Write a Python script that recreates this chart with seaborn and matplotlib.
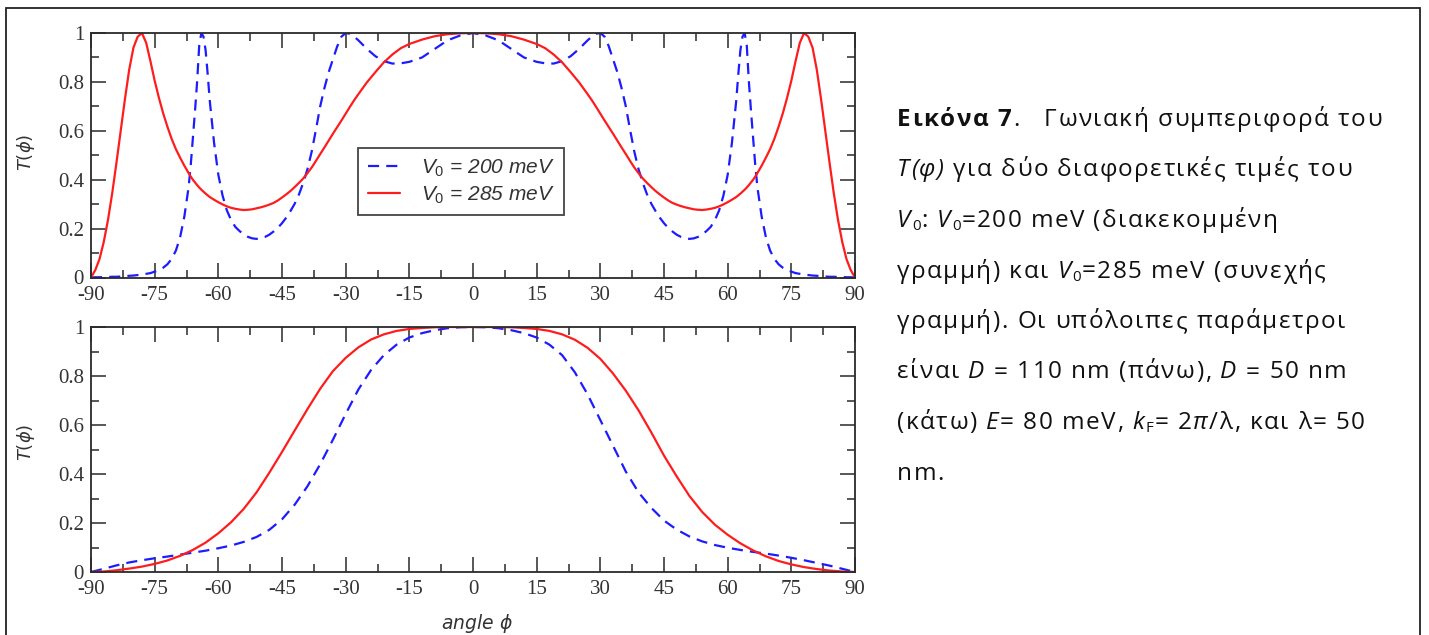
import numpy as np
import pandas as pd
import matplotlib
matplotlib.use("Agg")
import matplotlib.pyplot as plt
import seaborn as sns
from matplotlib.ticker import MultipleLocator, FuncFormatter
from matplotlib.font_manager import FontProperties, findfont
from matplotlib.ft2font import FT2Font
from matplotlib.patches import Rectangle

# ---------------- data ----------------
top_angle = [
    -90, -89, -88, -87, -86, -85, -84, -83, -82, -81,
    -80, -79, -78, -77, -76, -75, -74, -73, -72, -71,
    -70, -69, -68, -67, -66.5, -66, -65.5, -65, -64.5, -64,
    -63.5, -63, -62.5, -62, -61, -60, -59, -58, -57, -56,
    -55, -54, -53, -52, -51, -50, -49, -48, -47, -46,
    -45, -44, -43, -42, -41, -40, -39, -38, -37, -36,
    -35, -34, -33, -32, -31, -30, -29, -28, -27, -25,
    -23, -21, -19, -17, -15, -12, -9, -6, -3,
    0,
    3, 6, 9, 12, 15, 17, 19, 21, 23,
    25, 27, 28, 29, 30, 31, 32, 33, 34, 35,
    36, 37, 38, 39, 40, 41, 42, 43, 44, 45,
    46, 47, 48, 49, 50, 51, 52, 53, 54, 55,
    56, 57, 58, 59, 60, 61, 62, 62.5, 63, 63.5,
    64, 64.5, 65, 65.5, 66, 66.5, 67, 68, 69, 70,
    71, 72, 73, 74, 75, 76, 77, 78, 79, 80,
    81, 82, 83, 84, 85, 86, 87, 88, 89, 90,
]
top_v285 = [
    0.0, 0.03, 0.075, 0.145, 0.235, 0.345, 0.47, 0.60, 0.73, 0.85,
    0.94, 0.985, 1.0, 0.96, 0.885, 0.805, 0.735, 0.672, 0.617, 0.567,
    0.525, 0.49, 0.457, 0.427, 0.413, 0.40, 0.389, 0.378, 0.368, 0.359,
    0.351, 0.343, 0.336, 0.329, 0.318, 0.308, 0.299, 0.291, 0.285, 0.281,
    0.278, 0.276, 0.277, 0.279, 0.283, 0.287, 0.292, 0.298, 0.305, 0.315,
    0.327, 0.34, 0.354, 0.37, 0.387, 0.405, 0.427, 0.45, 0.477, 0.505,
    0.532, 0.56, 0.588, 0.615, 0.642, 0.67, 0.698, 0.725, 0.75, 0.798,
    0.84, 0.88, 0.912, 0.938, 0.955, 0.973, 0.987, 0.995, 0.999,
    1.0,
    0.999, 0.995, 0.987, 0.973, 0.955, 0.938, 0.912, 0.88, 0.84,
    0.798, 0.75, 0.725, 0.698, 0.67, 0.642, 0.615, 0.588, 0.56, 0.532,
    0.505, 0.477, 0.45, 0.427, 0.405, 0.387, 0.37, 0.354, 0.34, 0.327,
    0.315, 0.305, 0.298, 0.292, 0.287, 0.283, 0.279, 0.277, 0.276, 0.278,
    0.281, 0.285, 0.291, 0.299, 0.308, 0.318, 0.329, 0.336, 0.343, 0.351,
    0.359, 0.368, 0.378, 0.389, 0.40, 0.413, 0.427, 0.457, 0.49, 0.525,
    0.567, 0.617, 0.672, 0.735, 0.805, 0.885, 0.96, 1.0, 0.985, 0.94,
    0.85, 0.73, 0.60, 0.47, 0.345, 0.235, 0.145, 0.075, 0.03, 0.0,
]
top_v200 = [
    0.0, 0.001, 0.001, 0.002, 0.002, 0.003, 0.003, 0.004, 0.005, 0.007,
    0.008, 0.01, 0.012, 0.015, 0.018, 0.024, 0.03, 0.04, 0.054, 0.076,
    0.11, 0.165, 0.25, 0.37, 0.46, 0.57, 0.68, 0.80, 0.95, 1.0,
    0.985, 0.93, 0.83, 0.72, 0.55, 0.42, 0.335, 0.275, 0.235, 0.207,
    0.19, 0.176, 0.166, 0.16, 0.158, 0.16, 0.166, 0.175, 0.188, 0.203,
    0.222, 0.245, 0.272, 0.302, 0.34, 0.387, 0.443, 0.515, 0.605, 0.70,
    0.775, 0.84, 0.892, 0.945, 0.985, 1.0, 0.997, 0.985, 0.97, 0.935,
    0.905, 0.885, 0.875, 0.876, 0.882, 0.90, 0.935, 0.97, 0.99,
    1.0,
    0.99, 0.97, 0.935, 0.90, 0.882, 0.876, 0.875, 0.885, 0.905,
    0.935, 0.97, 0.985, 0.997, 1.0, 0.985, 0.945, 0.892, 0.84, 0.775,
    0.70, 0.605, 0.515, 0.443, 0.387, 0.34, 0.302, 0.272, 0.245, 0.222,
    0.203, 0.188, 0.175, 0.166, 0.16, 0.158, 0.16, 0.166, 0.176, 0.19,
    0.207, 0.235, 0.275, 0.335, 0.42, 0.55, 0.72, 0.83, 0.93, 0.985,
    1.0, 0.95, 0.80, 0.68, 0.57, 0.46, 0.37, 0.25, 0.165, 0.11,
    0.076, 0.054, 0.04, 0.03, 0.024, 0.018, 0.015, 0.012, 0.01, 0.008,
    0.007, 0.005, 0.004, 0.003, 0.003, 0.002, 0.002, 0.001, 0.001, 0.0,
]

bot_angle = [
    -90, -87, -84, -81, -78, -75, -72, -69, -66, -63,
    -60, -57, -54, -51, -48, -45, -42, -39, -36, -33,
    -30, -27, -24, -21, -18, -15, -12, -9, -6, -3,
    0,
    3, 6, 9, 12, 15, 18, 21, 24, 27, 30,
    33, 36, 39, 42, 45, 48, 51, 54, 57, 60,
    63, 66, 69, 72, 75, 78, 81, 84, 87, 90,
]
bot_v285 = [
    0.0, 0.002, 0.007, 0.014, 0.022, 0.033, 0.047, 0.066, 0.09, 0.12,
    0.158, 0.203, 0.258, 0.325, 0.405, 0.49, 0.578, 0.665, 0.748, 0.82,
    0.874, 0.917, 0.949, 0.97, 0.984, 0.992, 0.996, 0.999, 1.0, 1.0,
    1.0,
    1.0, 1.0, 0.999, 0.996, 0.992, 0.984, 0.97, 0.948, 0.915, 0.87,
    0.81, 0.74, 0.66, 0.57, 0.475, 0.39, 0.31, 0.245, 0.193, 0.152,
    0.117, 0.088, 0.064, 0.045, 0.031, 0.02, 0.012, 0.006, 0.002, 0.0,
]
bot_v200 = [
    0.0, 0.013, 0.027, 0.039, 0.048, 0.056, 0.063, 0.071, 0.079, 0.087,
    0.097, 0.108, 0.123, 0.143, 0.172, 0.215, 0.275, 0.35, 0.44, 0.54,
    0.645, 0.745, 0.825, 0.885, 0.928, 0.957, 0.975, 0.987, 0.995, 0.999,
    1.0,
    0.999, 0.995, 0.987, 0.975, 0.957, 0.928, 0.885, 0.815, 0.725, 0.62,
    0.515, 0.41, 0.325, 0.262, 0.21, 0.173, 0.145, 0.125, 0.11, 0.099,
    0.09, 0.082, 0.075, 0.067, 0.058, 0.048, 0.037, 0.026, 0.013, 0.0,
]

series_labels = [r"$\mathit{V_0}$ = 200 meV", r"$\mathit{V_0}$ = 285 meV"]
x_ticks = [-90, -75, -60, -45, -30, -15, 0, 15, 30, 45, 60, 75, 90]
y_ticks = [0, 0.2, 0.4, 0.6, 0.8, 1]

# ---------------- style ----------------
sns.set_style("ticks")
plt.rcParams["font.family"] = ["Liberation Sans", "DejaVu Sans"]
plt.rcParams["axes.unicode_minus"] = False
plt.rcParams["mathtext.fontset"] = "custom"
plt.rcParams["mathtext.it"] = "Liberation Sans:italic"
plt.rcParams["mathtext.rm"] = "Liberation Sans"

W, H = 1429, 635
fig = plt.figure(figsize=(W / 100, H / 100), dpi=100)
fig.patch.set_facecolor("white")

RED = "#ff1c1c"
BLUE = "#1c1cff"
TICKC = "#2a2a2a"


def px_axes(x0, x1, ytop, ybot):
    return fig.add_axes([x0 / W, 1 - ybot / H, (x1 - x0) / W, (ybot - ytop) / H])


ax_top = px_axes(91, 855, 33, 277.5)
ax_bot = px_axes(91, 855, 327, 572)

top_df = pd.DataFrame({"angle": top_angle, "v200": top_v200, "v285": top_v285})
bot_df = pd.DataFrame({"angle": bot_angle, "v200": bot_v200, "v285": bot_v285})

for ax, df in [(ax_top, top_df), (ax_bot, bot_df)]:
    sns.lineplot(data=df, x="angle", y="v200", ax=ax, color=BLUE, linewidth=1.6,
                 label=series_labels[0], sort=False)
    ax.lines[-1].set_dashes([5.0, 3.2])
    sns.lineplot(data=df, x="angle", y="v285", ax=ax, color=RED, linewidth=1.6,
                 label=series_labels[1], sort=False)
    ax.set_xlim(-90, 90)
    ax.set_ylim(0, 1)
    ax.set_xticks(x_ticks)
    ax.set_yticks(y_ticks)
    ax.xaxis.set_minor_locator(MultipleLocator(7.5))
    ax.yaxis.set_minor_locator(MultipleLocator(0.1))
    ax.xaxis.set_major_formatter(FuncFormatter(lambda v, p: f"{v:g}"))
    ax.yaxis.set_major_formatter(FuncFormatter(lambda v, p: f"{v:g}"))
    ax.tick_params(which="both", direction="in", top=True, right=True,
                   color=TICKC, width=1.1)
    ax.tick_params(which="major", length=11, labelsize=15, labelcolor="#333333")
    ax.tick_params(axis="x", which="major", pad=6)
    ax.tick_params(axis="y", which="major", pad=5)
    ax.tick_params(which="minor", length=5.5)
    for lab in ax.get_xticklabels() + ax.get_yticklabels():
        lab.set_fontfamily("Liberation Serif")
    for sp in ax.spines.values():
        sp.set_linewidth(1.3)
        sp.set_color(TICKC)
        sp.set_visible(True)
    ax.set_xlabel("")
    ax.set_ylabel(r"$T(\phi)$", fontsize=13, color="#333333", math_fontfamily="dejavusans")

ax_top.yaxis.set_label_coords(-0.071, 0.51)
ax_bot.yaxis.set_label_coords(-0.071, 0.53)
ax_bot.set_xlabel(r"$angle\ \phi$", fontsize=13.5, color="#333333", math_fontfamily="dejavusans")
ax_bot.xaxis.set_label_coords(0.505, -0.163)

leg = ax_top.legend(loc="upper left", bbox_to_anchor=(0.350, 0.53), fontsize=15,
                    frameon=True, fancybox=False, framealpha=1, edgecolor="#444444",
                    handlelength=1.55, handletextpad=1.0, labelspacing=0.28,
                    borderpad=0.45, borderaxespad=0)
leg.get_frame().set_linewidth(1.3)
for t in leg.get_texts():
    t.set_color("#333333")
    t.set_fontstyle("italic")
ax_bot.get_legend().remove()

# outer border
fig.patches.append(Rectangle((6 / W, -0.02), (1420 - 6) / W, 1 - 8 / H + 0.02,
                             transform=fig.transFigure, fill=False,
                             edgecolor="#222222", linewidth=1.3))

# ---------------- caption ----------------
CAP_FS = 17.5
CAP_FAM = ["Open Sans", "DejaVu Sans"]
_ft_cache = {}


def fprop(kind):
    if kind == "b":
        return FontProperties(family=CAP_FAM, size=CAP_FS, weight="bold")
    if kind == "i":
        return FontProperties(family=CAP_FAM, size=CAP_FS, style="italic")
    if kind == "s":
        return FontProperties(family=CAP_FAM, size=CAP_FS * 0.62)
    return FontProperties(family=CAP_FAM, size=CAP_FS)


def advance(c, fp):
    path = findfont(fp)
    if path not in _ft_cache:
        _ft_cache[path] = FT2Font(path)
    f = _ft_cache[path]
    f.set_size(fp.get_size_in_points(), 100)
    g = f.load_char(ord(c))
    return g.linearHoriAdvance / 65536.0


caption = [
    [("Εικόνα 7", "b"), (".   Γωνιακή συμπεριφορά του", "n")],
    [("T(φ)", "i"), (" για δύο διαφορετικές τιμές του", "n")],
    [("V", "i"), ("0", "s"), (": ", "n"), ("V", "i"), ("0", "s"), ("=200 meV (διακεκομμένη", "n")],
    [("γραμμή) και ", "n"), ("V", "i"), ("0", "s"), ("=285 meV (συνεχής", "n")],
    [("γραμμή). Οι υπόλοιπες παράμετροι", "n")],
    [("είναι ", "n"), ("D", "i"), (" = 110 nm (πάνω), ", "n"), ("D", "i"), (" = 50 nm", "n")],
    [("(κάτω) ", "n"), ("E", "i"), ("= 80 meV, ", "n"), ("k", "i"), ("F", "s"),
     ("= 2", "n"), ("π", "i"), ("/λ, και λ= 50", "n")],
    [("nm.", "n")],
]

# small letter spacing so that the first caption line spans about the same width as in the picture
X0 = 897
LINE1_WIDTH = 485
nat = 0.0
nch = 0
for s, kind in caption[0]:
    fp = fprop(kind)
    for c in s:
        nat += advance(c, fp)
        nch += 1
TRACK = min(1.6, max(0.0, (LINE1_WIDTH - nat) / (nch - 1)))

baselines = [126, 176.5, 227, 277.5, 328, 378.5, 429, 479.5]
for segs, yb in zip(caption, baselines):
    x = X0
    for s, kind in segs:
        fp = fprop(kind)
        ydraw = yb + (3.5 if kind == "s" else 0)
        for c in s:
            if c != " ":
                fig.text(x / W, 1 - ydraw / H, c, fontproperties=fp,
                         color="#111111", va="baseline", ha="left")
            x += advance(c, fp) + (TRACK * 0.6 if kind == "s" else TRACK)

fig.savefig("out.png", dpi=100)
